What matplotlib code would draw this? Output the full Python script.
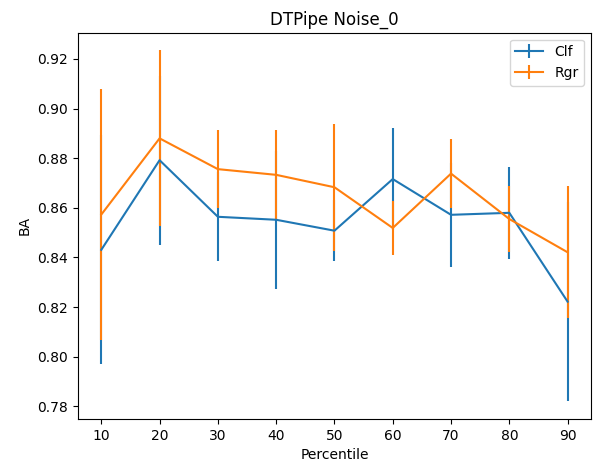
import matplotlib
matplotlib.use("Agg")
import matplotlib.pyplot as plt

percentiles = [10, 20, 30, 40, 50, 60, 70, 80, 90]

clf_mean = [0.8431, 0.8792, 0.8564, 0.8552, 0.8508, 0.8716, 0.8572, 0.8580, 0.8222]
clf_err = [0.0461, 0.0340, 0.0180, 0.0278, 0.0124, 0.0206, 0.0209, 0.0186, 0.0402]

rgr_mean = [0.8573, 0.8880, 0.8756, 0.8733, 0.8683, 0.8519, 0.8738, 0.8555, 0.8421]
rgr_err = [0.0505, 0.0355, 0.0157, 0.0181, 0.0256, 0.0107, 0.0138, 0.0133, 0.0266]

fig = plt.figure(figsize=(5.93, 4.65), dpi=100)
ax = fig.add_axes([0.1315, 0.0989, 0.865, 0.8308])

ax.errorbar(percentiles, clf_mean, yerr=clf_err, label="Clf")
ax.errorbar(percentiles, rgr_mean, yerr=rgr_err, label="Rgr")

ax.set_xticks(percentiles)
ax.set_title("DTPipe Noise_0")
ax.set_xlabel("Percentile")
ax.set_ylabel("BA")
ax.legend(loc="upper right")

fig.savefig("out.png", dpi=100)
